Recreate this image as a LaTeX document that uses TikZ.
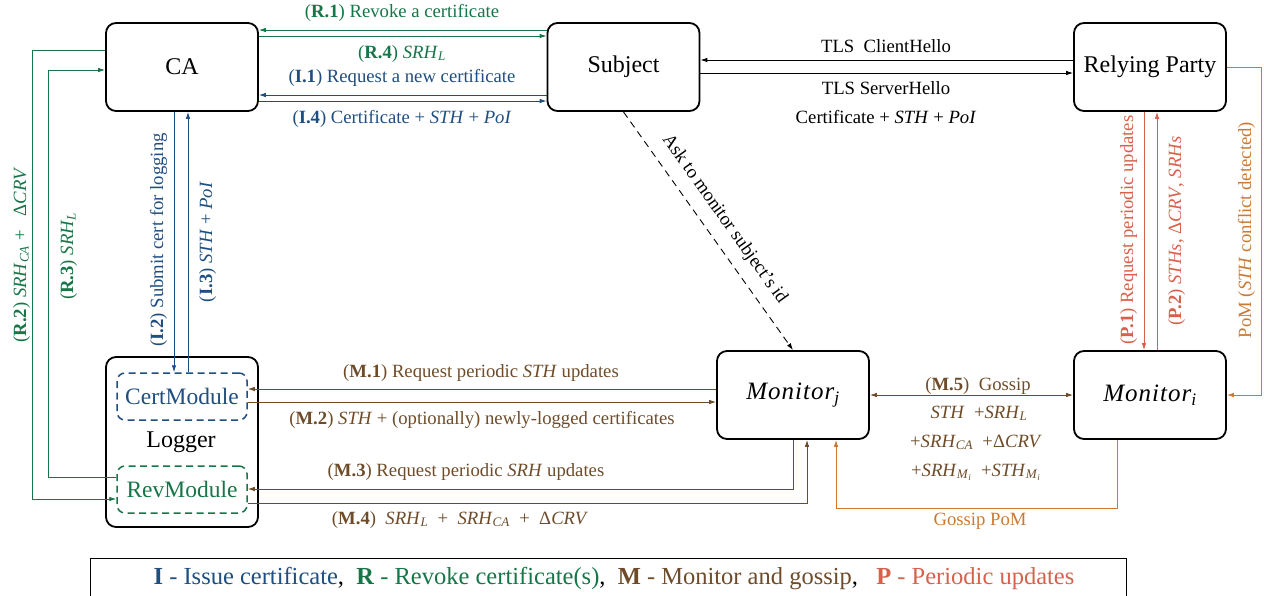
\documentclass[tikz,border=0pt]{standalone}
\usepackage{fontspec}
\setmainfont{Liberation Serif}
\usetikzlibrary{arrows.meta}
\definecolor{cI}{RGB}{31,78,128}
\definecolor{cR}{RGB}{22,118,72}
\definecolor{cM}{RGB}{110,76,42}
\definecolor{cO}{RGB}{202,122,52}
\definecolor{cP}{RGB}{214,98,76}
\newcommand\itx[1]{\textit{#1}}
\newcommand\sbx[1]{\textsubscript{\textit{#1}}}
\begin{document}
\begin{tikzpicture}[x=1pt,y=-1pt,
  box/.style={draw, line width=1.8pt, rounded corners=10pt, minimum width=152pt, minimum height=88pt, inner sep=0pt, font=\fontsize{24}{28}\selectfont},
  modbox/.style={draw, line width=1.5pt, dash pattern=on 7pt off 4.5pt, rounded corners=8pt, minimum width=130pt, minimum height=47pt, inner sep=0pt, font=\fontsize{23.5}{28}\selectfont},
  lbl/.style={inner sep=0pt, anchor=base, font=\fontsize{18.7}{22}\selectfont},
  con/.style={line width=0.9pt, -{Latex[length=7pt,width=4.6pt]}},
  dcon/.style={line width=0.9pt, {Latex[length=7pt,width=4.6pt]}-{Latex[length=7pt,width=4.6pt]}}
]
\useasboundingbox (0,0) rectangle (1264,595);

% main nodes
\node[box] (ca) at (182,67) {CA};
\node[box] (subj) at (623.5,67) {Subject};
\node[box] (rp) at (1150,67) {Relying Party};
\node[box, minimum height=170pt] (logger) at (182,442) {};
\node[inner sep=0pt, anchor=base, font=\fontsize{24}{28}\selectfont] (loggerlbl) at (181,447) {Logger};
\node[modbox, draw=cI, text=cI] (cert) at (182,396.5) {CertModule};
\node[modbox, draw=cR, text=cR] (rev) at (182,489.5) {RevModule};
\node[box, font=\fontsize{25}{28}\selectfont] (mj) at (793,395) {\itx{M\kern1pt o\kern1pt n\kern1pt i\kern1pt t\kern1pt o\kern1pt r}\sbx{j}};
\node[box, font=\fontsize{25}{28}\selectfont] (mi) at (1150,395) {\itx{M\kern1pt o\kern1pt n\kern1pt i\kern1pt t\kern1pt o\kern1pt r}\sbx{i}};

% CA <-> Subject
\draw[con,cR] (subj.west |- 0,30) -- (ca.east |- 0,30);
\draw[con,cR] (ca.east |- 0,36) -- (subj.west |- 0,36);
\draw[con,cI] (subj.west |- 0,95) -- (ca.east |- 0,95);
\draw[con,cI] (ca.east |- 0,101) -- (subj.west |- 0,101);
\node[lbl,text=cR] (lr1) at (402,17) {(\textbf{R.1}) Revoke a certificate};
\node[lbl,text=cR] (lr4) at (402,58) {(\textbf{R.4}) \itx{SRH}\sbx{L}};
\node[lbl,text=cI] (li1) at (402,82) {(\textbf{I.1}) Request a new certificate};
\node[lbl,text=cI] (li4) at (402,123) {(\textbf{I.4}) Certificate + \itx{STH} + \itx{PoI}};

% Subject <-> Relying Party
\draw[con] (rp.west |- 0,60) -- (subj.east |- 0,60);
\draw[con] (subj.east |- 0,73) -- (rp.west |- 0,73);
\node[lbl] (ltc) at (886,52) {TLS\ \ ClientHello};
\node[lbl] (lts) at (886,94) {TLS ServerHello};
\node[lbl] (ltc2) at (886,123) {Certificate + \itx{STH} + \itx{PoI}};

% Subject -> Monitor_j
\draw[con, dash pattern=on 7pt off 5pt] (subj.south) -- node[midway, sloped, above=11pt, inner sep=0pt, font=\fontsize{18.7}{22}\selectfont] (lask) {Ask to monitor subject's id} (mj.north);

% CA <-> CertModule
\draw[con,cI] (174,0 |- ca.south) -- (174,0 |- cert.north);
\draw[con,cI] (188,0 |- cert.north) -- (188,0 |- ca.south);
\node[lbl,rotate=90,text=cI] (li2) at (163,240) {(\textbf{I.2}) Submit cert for logging};
\node[lbl,rotate=90,text=cI] (li3) at (212,242) {(\textbf{I.3}) \itx{STH} + \itx{PoI}};

% CA <-> RevModule
\draw[con,cR] (ca.west |- 0,50) -| (32,499) -- (rev.west |- 0,499);
\draw[con,cR] (rev.west |- 0,477) -| (48,70) -- (ca.west |- 0,70);
\node[lbl,rotate=90,text=cR] (lr2) at (26,255) {(\textbf{R.2}) \itx{SRH}\sbx{CA} +\ \ \ Δ\itx{CRV}};
\node[lbl,rotate=90,text=cR] (lr3) at (73,256) {(\textbf{R.3}) \itx{SRH}\sbx{L}};

% Logger <-> Monitor_j
\draw[con,cM] (mj.west |- 0,389) -- (cert.east |- 0,389);
\draw[con,cM] (cert.east |- 0,402) -- (mj.west |- 0,402);
\draw[con,cM] (793,0 |- mj.south) |- (rev.east |- 0,489);
\draw[con,cM] (rev.east |- 0,503) -| (807,0 |- mj.south);
\node[lbl,text=cM] (lm1) at (481,377) {(\textbf{M.1}) Request periodic \itx{STH} updates};
\node[lbl,text=cM] (lm2) at (482,424) {(\textbf{M.2}) \itx{STH} + (optionally) newly-logged certificates};
\node[lbl,text=cM] (lm3) at (466,476) {(\textbf{M.3}) Request periodic \itx{SRH} updates};
\node[lbl,text=cM] (lm4) at (460,524) {(\textbf{M.4})\ \ \itx{SRH}\sbx{L}\ \ +\ \ \itx{SRH}\sbx{CA}\ \ +\ \ Δ\itx{CRV}};

% Monitor_j <-> Monitor_i
\draw[dcon, cM] (mj.east |- 0,395) -- (mi.west |- 0,395);
\node[lbl,text=cM] (lm5) at (978,390) {(\textbf{M.5})\ \ Gossip};
\node[lbl,text=cM] (lm5a) at (979,418) {\itx{STH}\ \ +\itx{SRH}\sbx{L}};
\node[lbl,text=cM] (lm5b) at (976,447) {+\itx{SRH}\sbx{CA}\ \ +Δ\itx{CRV}};
\node[lbl,text=cM] (lm5c) at (976,476) {+\itx{SRH}\textsubscript{\itx{M}\textsubscript{\itx{i}}}\ \ +\itx{STH}\textsubscript{\itx{M}\textsubscript{\itx{i}}}};
\draw[con,cO] (1117,0 |- mi.south) |- (836,508) -- (836,0 |- mj.south);
\node[lbl,text=cO] (lgp) at (980,525) {Gossip PoM};

% Relying Party <-> Monitor_i
\draw[con,cP] (1144,0 |- rp.south) -- (1144,0 |- mi.north);
\draw[con,cP] (1157,0 |- mi.north) -- (1157,0 |- rp.south);
\draw[con,cO] (rp.east |- 0,67) -| (1261,395) -- (mi.east |- 0,395);
\node[lbl,rotate=90,text=cP] (lp1) at (1133,230) {(\textbf{P.1}) Request periodic updates};
\node[lbl,rotate=90,text=cP] (lp2) at (1181,231) {(\textbf{P.2}) \itx{STHs}, Δ\itx{CRV}, \itx{SRHs}};
\node[lbl,rotate=90,text=cO] (lpom) at (1251,230) {PoM (\itx{STH} conflict detected)};

% legend
\draw[line width=0.8pt] (90,558) rectangle (1126,603);
\node[inner sep=0pt, anchor=base, font=\fontsize{24.5}{28}\selectfont] (legend) at (614,584)
 {\textcolor{cI}{\textbf{I} - Issue certificate},\ \ \textcolor{cR}{\textbf{R} - Revoke certificate(s)},\ \ \textcolor{cM}{\textbf{M} - Monitor and gossip},\ \ \ \textcolor{cP}{\textbf{P} - Periodic updates}};
\end{tikzpicture}
\end{document}
